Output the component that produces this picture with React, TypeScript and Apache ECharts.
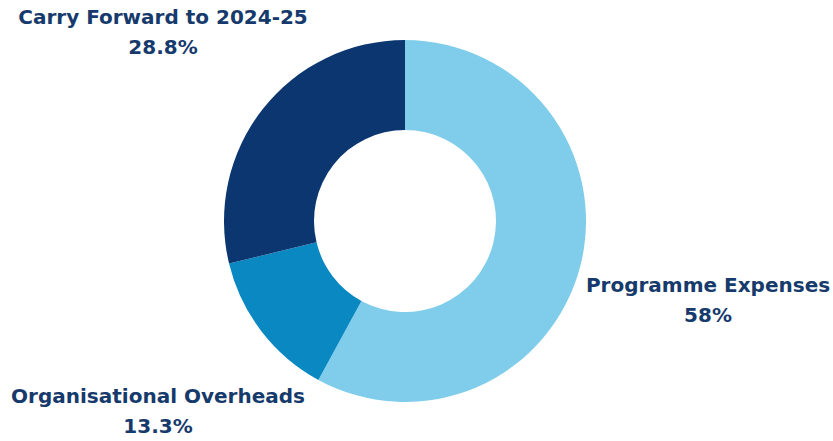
import React, { useEffect, useRef } from "react";
import * as echarts from "echarts";

const categories = ["Programme Expenses", "Organisational Overheads", "Carry Forward to 2024-25"];
const values = [58, 13.3, 28.8];
const colors = ["#7fcdeb", "#0a88c1", "#0c3670"];
// label anchor positions (layout only)
const labelPos = [
  { x: 708, y: 300 },
  { x: 158, y: 411 },
  { x: 163, y: 32 },
];

export default function App() {
  const ref = useRef<HTMLDivElement>(null);
  useEffect(() => {
    document.body.style.margin = "0";
    const chart = echarts.init(ref.current!, null, { renderer: "svg" });
    chart.setOption({
      animation: false,
      backgroundColor: "#ffffff",
      series: [
        {
          type: "pie",
          center: [405, 221],
          radius: [91, 181],
          startAngle: 90,
          clockwise: true,
          data: categories.map((name, i) => ({
            name,
            value: values[i],
            itemStyle: { color: colors[i] },
          })),
          label: {
            show: true,
            formatter: "{b}\n{c}%",
            color: "#163a6c",
            fontFamily: "DejaVu Sans",
            fontWeight: "bold",
            fontSize: 20,
            lineHeight: 30,
            align: "center",
            overflow: "none",
            width: 400,
          },
          labelLine: { show: false },
          labelLayout: (params: any) => ({
            x: labelPos[params.dataIndex].x,
            y: labelPos[params.dataIndex].y,
            align: "center",
            verticalAlign: "middle",
          }),
          emphasis: { disabled: true },
        },
      ],
    });
    return () => chart.dispose();
  }, []);
  return <div ref={ref} style={{ width: 833, height: 441 }} />;
}
